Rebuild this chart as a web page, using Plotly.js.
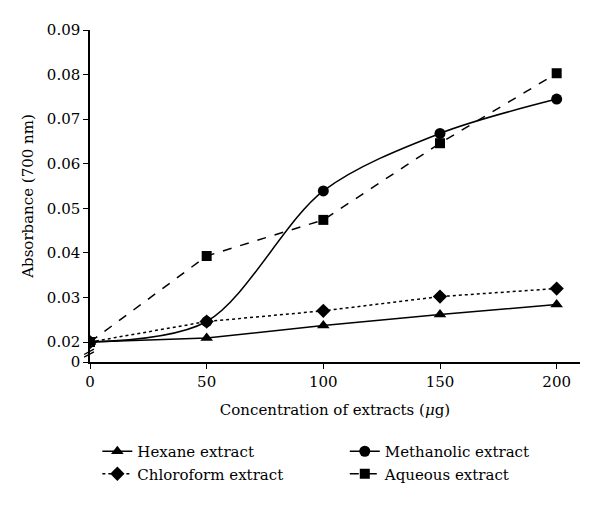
<!DOCTYPE html>
<html><head><meta charset="utf-8">
<script src="https://cdn.plot.ly/plotly-3.0.1.min.js"></script>
<style>body{margin:0;background:#fff}#chart{width:600px;height:507px}</style>
</head><body><div id="chart"></div>
<script>
const concentration = [0, 50, 100, 150, 200];
const hexane = [0.0200, 0.0209, 0.0237, 0.0262, 0.0284];
const chloroform = [0.0200, 0.0246, 0.0270, 0.0302, 0.0320];
const methanolic = [0.0200, 0.0246, 0.0539, 0.0668, 0.0745];
const aqueous = [0.0200, 0.0393, 0.0474, 0.0646, 0.0803];
const yTickVals = [0.01552, 0.02, 0.03, 0.04, 0.05, 0.06, 0.07, 0.08, 0.09];
const yTickText = ['0', '0.02', '0.03', '0.04', '0.05', '0.06', '0.07', '0.08', '0.09'];
const xTickVals = [0, 50, 100, 150, 200];

const font = {family: 'DejaVu Serif, serif', size: 15, color: '#000'};
const traces = [
  {name: 'Hexane extract', x: concentration, y: hexane, mode: 'lines+markers', legend: 'legend',
   line: {color: '#000', width: 1.5}, marker: {symbol: 'triangle-up', size: 11, color: '#000'}},
  {name: 'Chloroform extract', x: concentration, y: chloroform, mode: 'lines+markers', legend: 'legend',
   line: {color: '#000', width: 1.5, dash: 'dot'}, marker: {symbol: 'diamond', size: 11, color: '#000'}},
  {name: 'Methanolic extract', x: concentration, y: methanolic, mode: 'lines+markers', legend: 'legend2',
   line: {color: '#000', width: 1.5, shape: 'spline', smoothing: 0.9}, marker: {symbol: 'circle', size: 11, color: '#000'}},
  {name: 'Aqueous extract', x: concentration, y: aqueous, mode: 'lines+markers', legend: 'legend2',
   line: {color: '#000', width: 1.5, dash: 'dash'}, marker: {symbol: 'square', size: 10, color: '#000'}}
];
const legendBase = {orientation: 'v', yanchor: 'top', xanchor: 'left', yref: 'container', font: font,
  traceorder: 'normal', itemwidth: 30, tracegroupgap: 0, bgcolor: 'rgba(0,0,0,0)'};
const layout = {
  width: 600, height: 507,
  margin: {l: 90, r: 20, t: 30, b: 145},
  paper_bgcolor: '#fff', plot_bgcolor: '#fff',
  font: font,
  showlegend: true,
  xaxis: {range: [0, 210], tickvals: xTickVals, ticks: 'outside', ticklen: 5, tickcolor: '#000',
    showline: true, linecolor: '#000', linewidth: 1.5, showgrid: false, zeroline: false,
    tickfont: font,
    title: {text: 'Concentration of extracts (<i>μ</i>g)', font: font, standoff: 15}},
  yaxis: {range: [0.01552, 0.09], tickvals: yTickVals, ticktext: yTickText, ticks: 'outside', ticklen: 5,
    tickcolor: '#000', showline: true, linecolor: '#000', linewidth: 1.5, showgrid: false, zeroline: false,
    tickfont: font,
    title: {text: 'Absorbance (700 nm)', font: font, standoff: 10}},
  legend: Object.assign({}, legendBase, {x: 0.015, y: 0.142}),
  legend2: Object.assign({}, legendBase, {x: 0.52, y: 0.142}),
  shapes: [
    {type: 'line', xref: 'paper', yref: 'y', x0: -0.012, x1: 0.008, y0: 0.0166, y1: 0.0178, line: {color: '#000', width: 1.3}},
    {type: 'line', xref: 'paper', yref: 'y', x0: -0.012, x1: 0.008, y0: 0.0172, y1: 0.0184, line: {color: '#000', width: 1.3}}
  ]
};
Plotly.newPlot('chart', traces, layout, {displayModeBar: false});
</script></body></html>
